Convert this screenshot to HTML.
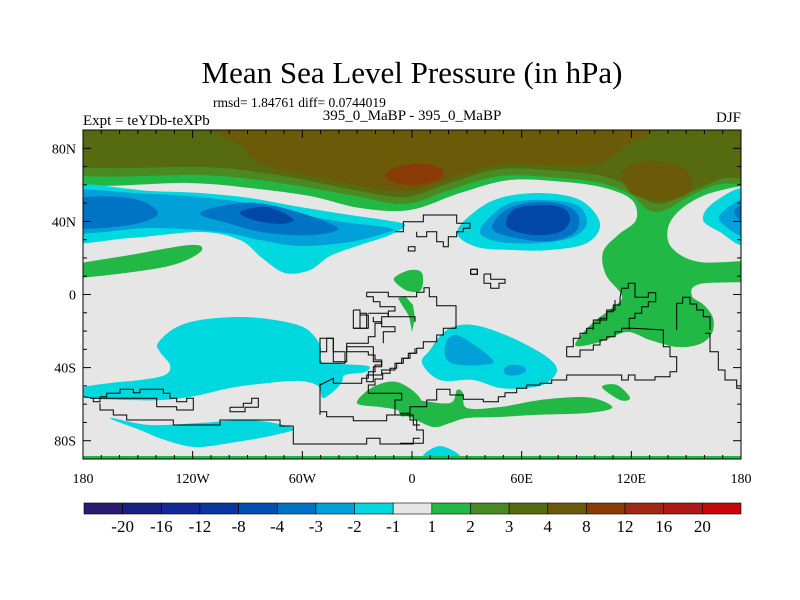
<!DOCTYPE html>
<html><head><meta charset="utf-8"><style>
html,body{margin:0;padding:0;background:#fff;}
svg{display:block;font-family:"Liberation Serif",serif;}
</style></head><body>
<svg id="chart" width="800" height="600" viewBox="0 0 800 600" xmlns="http://www.w3.org/2000/svg">
<text x="412" y="83" font-size="31" text-anchor="middle">Mean Sea Level Pressure (in hPa)</text>
<text x="213" y="107" font-size="13.5">rmsd= 1.84761 diff= 0.0744019</text>
<text x="83" y="125" font-size="15">Expt = teYDb-teXPb</text>
<text x="412" y="120" font-size="15" text-anchor="middle">395_0_MaBP - 395_0_MaBP</text>
<text x="741" y="122" font-size="15" text-anchor="end">DJF</text>
<defs><clipPath id="plotclip"><rect x="83" y="130" width="658" height="329"/></clipPath></defs>
<g id="plot" clip-path="url(#plotclip)">
<rect x="83" y="130" width="658" height="329" fill="#e6e6e6"/>
<g id="fills"></g>
<g id="coasts" fill="none" stroke="#000" stroke-width="1"></g>
<rect x="83" y="456" width="658" height="3" fill="#22b845"/>
</g>
<rect x="83" y="130" width="658" height="329" fill="none" stroke="#000" stroke-width="1"/>
<g id="axes"></g>
<g id="colorbar"></g>
</svg>
<script>
// colorbar data
const cbLevels = ["-20","-16","-12","-8","-4","-3","-2","-1","1","2","3","4","8","12","16","20"];
const cbColors = ["#2a1a70","#1a2080","#10289a","#0a34a0","#0050b4","#0074c4","#00a0d8","#00d8e0","#e6e6e6","#22b845","#4a8a22","#566a10","#6b5a08","#8a3c06","#a02814","#b01818","#c80808"];
// axis data
const xTickLabels = ["180","120W","60W","0","60E","120E","180"];
const xTickLons = [-180,-120,-60,0,60,120,180];
const yTickLabels = ["80N","40N","0","40S","80S"];
const yTickLats = [80,40,0,-40,-80];

const NS="http://www.w3.org/2000/svg";
const X0=83,X1=741,Y0=130,Y1=459;
function xOf(lon){return X0+(lon+180)*(X1-X0)/360;}
function yOf(lat){return Y0+(90-lat)*(Y1-Y0)/180;}
function mk(tag,attrs,parent){const e=document.createElementNS(NS,tag);for(const k in attrs)e.setAttribute(k,attrs[k]);parent.appendChild(e);return e;}
function smooth(p){
  let d="M"+p[0][0]+","+p[0][1];const n=p.length;
  for(let i=0;i<n;i++){const p0=p[(i-1+n)%n],p1=p[i],p2=p[(i+1)%n],p3=p[(i+2)%n];
    d+=" C"+(p1[0]+(p2[0]-p0[0])/6).toFixed(1)+","+(p1[1]+(p2[1]-p0[1])/6).toFixed(1)+" "+(p2[0]-(p3[0]-p1[0])/6).toFixed(1)+","+(p2[1]-(p3[1]-p1[1])/6).toFixed(1)+" "+p2[0]+","+p2[1];}
  return d+"Z";}
const C={g1:"#22b845",g2:"#4a8a22",g3:"#566a10",b4:"#6b5a08",b8:"#8a3c06",cy:"#00d8e0",lb:"#00a0d8",mb:"#0074c4",db:"#0048a8"};
const fills=document.getElementById('fills');
const shapes=[
 ["north-green-1to2",C.g1,[[60,120],[760,120],[760,185],[741,186],[705,195],[680,210],[668,228],[672,248],[700,262],[760,262],[760,280],[700,284],[692,296],[704,305],[713,318],[712,333],[700,344],[677,347],[650,340],[627,332],[600,342],[576,346],[582,334],[596,320],[612,308],[622,296],[606,275],[603,252],[618,235],[636,220],[632,200],[605,188],[565,182],[510,180],[460,193],[410,210],[360,208],[310,196],[250,188],[190,183],[60,181]]],
 ["north-green-2to3",C.g2,[[60,120],[760,120],[760,180],[720,184],[690,196],[665,210],[648,210],[630,194],[600,183],[560,178],[500,176],[450,190],[405,204],[355,196],[300,186],[250,179],[200,175],[60,172]]],
 ["north-olive-3to4",C.g3,[[60,120],[760,120],[760,175],[725,178],[695,190],[668,202],[650,202],[632,188],[602,176],[560,171],[500,169],[450,183],[405,197],[355,190],[300,179],[250,171],[200,167],[60,164]]],
 ["north-brown-4to8-center",C.b4,[[240,120],[628,120],[622,148],[598,163],[560,165],[505,164],[460,175],[420,189],[385,190],[345,183],[300,174],[262,164],[244,148]]],
 ["north-brown-4to8-east",C.b4,[[622,172],[640,162],[668,163],[688,172],[692,188],[678,198],[652,200],[630,192]]],
 ["north-red-8to12",C.b8,[[385,175],[400,166],[425,164],[443,170],[438,180],[415,185],[395,183]]],
 ["pacific-low-cyan",C.cy,[[60,187],[150,191],[200,193],[250,198],[300,207],[350,215],[385,220],[405,225],[390,235],[360,245],[330,256],[310,270],[285,273],[262,258],[240,240],[200,232],[130,238],[60,240]]],
 ["pacific-low-2to3",C.lb,[[60,192],[150,194],[200,197],[260,205],[330,220],[390,228],[385,233],[350,242],[300,246],[260,240],[220,232],[150,228],[60,232]]],
 ["pacific-low-3to4-west",C.mb,[[70,200],[130,198],[158,213],[130,225],[70,227]]],
 ["pacific-low-3to4-east",C.mb,[[200,213],[240,203],[280,207],[337,227],[313,235],[267,233],[227,223]]],
 ["pacific-low-core",C.db,[[240,212],[267,207],[293,219],[280,224],[253,220]]],
 ["asia-low-cyan",C.cy,[[457,233],[473,213],[500,198],[540,193],[580,200],[600,223],[587,243],[550,250],[513,250],[477,247]]],
 ["asia-low-2to3",C.lb,[[480,233],[490,217],[510,203],[543,200],[577,205],[587,223],[573,237],[540,243],[500,242]]],
 ["asia-low-3to4",C.mb,[[493,230],[503,212],[527,203],[557,203],[577,213],[577,230],[557,240],[527,240]]],
 ["asia-low-core",C.db,[[507,227],[513,210],[540,205],[563,208],[570,220],[560,232],[533,235]]],
 ["east-edge-low-cyan",C.cy,[[703,220],[713,203],[745,188],[760,215],[745,245],[720,232]]],
 ["east-edge-low-2to3",C.lb,[[720,215],[745,198],[755,215],[745,236],[725,226]]],
 ["east-edge-low-3to4",C.mb,[[734,212],[745,204],[750,214],[745,224]]],
 ["tropical-green-west",C.g1,[[70,266],[130,255],[190,245],[202,250],[182,262],[147,270],[70,278]]],
 ["africa-green-north",C.g1,[[395,277],[410,270],[422,273],[421,290],[408,291],[396,283]]],
 ["southern-cyan-main",C.cy,[[158,343],[175,328],[200,320],[240,317],[275,320],[305,328],[320,345],[322,362],[340,364],[368,366],[365,372],[345,375],[342,382],[335,390],[323,398],[318,386],[300,381],[268,383],[230,388],[195,396],[163,400],[125,400],[90,398],[80,393],[85,387],[110,383],[140,380],[165,375],[170,365],[160,352]]],
 ["southern-cyan-lower",C.cy,[[110,418],[150,425],[200,423],[250,420],[293,428],[275,435],[230,443],[195,447],[165,440],[140,430]]],
 ["indian-cyan",C.cy,[[422,363],[430,350],[443,333],[460,325],[483,327],[517,340],[547,357],[557,370],[547,383],[527,388],[500,388],[473,380],[440,380]]],
 ["indian-2to3-a",C.lb,[[445,347],[450,337],[462,337],[493,360],[480,365],[460,365],[447,360]]],
 ["indian-2to3-b",C.lb,[[504,370],[510,365],[522,366],[526,371],[518,375],[507,375]]],
 ["south-cyan-bottom",C.cy,[[423,456],[440,446],[460,456],[440,460]]],
 ["southern-green-band",C.g1,[[400,397],[417,400],[450,403],[457,390],[463,393],[467,408],[500,407],[540,400],[580,397],[600,400],[612,408],[587,413],[533,415],[500,417],[467,418],[450,423],[433,427],[410,417],[400,415]]],
 ["southern-green-west",C.g1,[[357,403],[373,387],[397,382],[420,398],[420,417],[410,417],[397,410],[380,407]]],
 ["southern-green-east",C.g1,[[602,387],[617,385],[630,398],[620,400]]]
];
for(const s of shapes){
  const p=mk('path',{d:smooth(s[2]),fill:s[1]},fills);
  
  
}
const strand=mk('path',{d:"M398,298 L405,296 L413,305 L415,318 L412,332 L409,316 L402,305Z",fill:C.g1},fills);



const coasts=document.getElementById('coasts');
const coastLines=[
 [300,215,[[200,232],[265,232],[265,245],[350,245],[350,232],[372,232],[372,218],[388,218],[388,245],[410,245],[410,272],[468,272],[468,340],[430,340],[430,360],[410,360],[410,380],[370,380],[370,400],[350,400],[350,415],[330,415],[330,430],[310,430],[310,445],[290,445],[290,460],[270,460],[270,475],[248,475],[248,492],[225,492],[225,510],[205,510],[205,535],[305,535],[305,555],[285,555],[285,600]]],
 [300,215,[[200,232],[200,245],[220,245],[220,260],[240,260],[240,275],[285,275],[285,288],[265,288],[265,305],[245,305],[245,325],[225,325],[225,365],[205,365],[205,385],[140,385],[140,410],[205,410],[205,420],[225,420],[225,435],[245,435],[245,450],[225,450],[225,470],[205,470],[205,490],[185,490],[185,505],[100,505],[100,490],[60,510],[60,600]]],
 [300,215,[[160,285],[180,285],[180,300],[205,300],[205,340],[160,340],[160,285]]],
 [300,215,[[60,445],[60,410],[80,410],[80,370],[100,370],[100,410],[135,410],[135,445],[60,445]]],
 [300,215,[[285,50],[310,50],[310,20],[370,20],[370,0],[470,0],[470,15],[470,25],[510,25],[510,40],[490,40],[490,50],[470,50],[470,65],[445,65],[445,95],[430,95],[430,80],[410,80],[410,50],[380,50],[380,65],[350,65],[350,50]]],
 [300,215,[[325,95],[345,95],[345,108],[325,108],[325,95]]],
 [300,215,[[512,163],[532,163],[532,178],[512,178],[512,163]]],
 [400,180,[[252,282],[272,282],[272,298],[315,298],[315,310],[297,310],[297,325],[272,325],[272,310],[252,310],[252,282]]],
 [400,180,[[212,268],[232,268],[232,283],[212,283],[212,268]]],
 [400,180,[[580,450],[580,430],[600,430],[600,415],[620,415],[620,395],[640,395],[640,375],[660,375],[660,355],[665,325],[685,325],[685,310],[705,310],[705,352],[745,352],[745,338],[767,338],[767,365],[745,365],[745,380],[725,380],[725,400],[705,400],[705,415],[688,415],[688,450]]],
 [400,180,[[830,450],[830,370],[848,370],[848,352],[870,352],[870,372],[890,372],[890,390],[910,390],[910,410],[930,410],[930,450]]],
 [400,300,[[500,170],[540,170],[540,150],[580,150],[580,135],[600,135],[600,120],[620,120],[620,110],[645,110],[645,95],[665,95],[665,85],[700,85],[790,90],[790,140],[810,140],[810,170],[830,170],[830,215],[810,215],[810,230],[765,230],[765,240],[705,240],[705,225],[685,225],[685,240],[665,240],[665,225],[500,225],[500,240],[455,240],[455,250],[420,250],[420,255],[380,255],[380,265],[350,265],[350,278],[315,278],[315,290],[295,290],[295,305],[250,305],[250,298],[190,298],[190,285],[150,285],[150,268],[110,268],[110,300],[80,300],[80,320],[30,320],[30,340],[0,340]]],
 [400,300,[[500,170],[500,140],[520,140],[520,115],[540,115],[540,100],[560,100],[560,85],[580,85],[580,60],[620,60],[620,30],[645,30],[645,0]]],
 [400,300,[[915,100],[930,100],[930,155],[955,155],[955,210],[975,210],[975,240],[1010,240],[1010,265],[1029,265]]],
 [400,300,[[0,430],[70,430],[70,390],[50,390],[50,360],[30,360],[30,330]]],
 [80,300,[[640,378],[640,432],[860,432],[860,415],[900,415],[900,432],[1000,432],[1000,415],[1020,415]]],
 [80,300,[[10,290],[40,295],[40,305],[60,305],[60,290],[80,290],[80,280],[120,280],[120,268],[160,268],[160,278],[180,278],[180,268],[250,268],[250,280],[270,280],[270,295],[290,295],[290,305],[320,305],[320,295],[340,295],[340,330],[290,330],[290,320],[230,320],[230,295],[30,295]]],
 [80,300,[[60,310],[60,330],[100,330],[100,345],[140,345],[140,360],[280,360],[280,375],[420,375],[420,360],[600,360],[600,378],[640,378]]],
 [80,300,[[450,322],[450,335],[495,335],[495,322],[535,322],[535,295],[515,295],[515,310],[490,310],[490,322],[450,322]]],
 [80,300,[[720,250],[720,335],[740,335],[740,350],[820,350],[820,362],[920,362],[920,345],[1000,345],[1000,375],[1020,375]]],
 [80,300,[[820,85],[840,85],[840,40],[860,40],[860,50],[860,85],[820,85]]],
 [80,300,[[720,190],[720,115],[760,115],[760,185],[800,185],[800,140],[880,140],[880,185],[905,185],[905,200],[880,200],[880,225],[860,225],[860,245],[880,245],[880,225],[905,225],[905,210],[945,210],[945,190],[965,190],[965,175],[985,175],[985,160],[1005,160],[1005,145]]],
 [80,300,[[865,40],[925,40],[925,50],[1005,50],[1005,65]]],
 [80,300,[[880,50],[880,65],[905,65],[905,80],[945,80],[945,95],[910,95],[910,130]]]
];
coastLines.forEach((c,i)=>{
  const pts=c[2].map(p=>(c[0]+p[0]/3).toFixed(1)+","+(c[1]+p[1]/3).toFixed(1)).join(" ");
  const pl=mk('polyline',{points:pts},coasts);
  
  
});

const axes=document.getElementById('axes');
for(let lon=-180;lon<=180;lon+=10){
  const x=xOf(lon);const major=(lon%60===0);const len=major?8:4;
  const t1=mk('line',{x1:x,y1:Y1,x2:x,y2:Y1-len,stroke:"#000","stroke-width":1},axes);
  
  
  const t2=mk('line',{x1:x,y1:Y0,x2:x,y2:Y0+len,stroke:"#000","stroke-width":1},axes);
  
  
}
for(let lat=-90;lat<=90;lat+=10){
  const y=yOf(lat);const major=(lat%40===0);const len=major?8:4;
  const t1=mk('line',{x1:X0,y1:y,x2:X0+len,y2:y,stroke:"#000","stroke-width":1},axes);
  
  
  const t2=mk('line',{x1:X1,y1:y,x2:X1-len,y2:y,stroke:"#000","stroke-width":1},axes);
  
  
}
xTickLabels.forEach((l,i)=>{
  const t=mk('text',{x:xOf(xTickLons[i]),y:483,"font-size":14,"text-anchor":"middle"},axes);
  t.textContent=l;
  
  
});
yTickLabels.forEach((l,i)=>{
  const t=mk('text',{x:76,y:yOf(yTickLats[i])+5,"font-size":14,"text-anchor":"end"},axes);
  t.textContent=l;
  
  
});

const cb=document.getElementById('colorbar');
const cbX0=84,cbX1=741,cbY=503,cbH=11;const w=(cbX1-cbX0)/cbColors.length;
cbColors.forEach((c,i)=>{
  const r=mk('rect',{x:cbX0+i*w,y:cbY,width:w,height:cbH,fill:c,stroke:"#000","stroke-width":0.6},cb);
  
  
});
cbLevels.forEach((l,i)=>{
  const t=mk('text',{x:cbX0+(i+1)*w,y:532,"font-size":17,"text-anchor":"middle"},cb);
  t.textContent=l;
  
  
});
</script>
</body></html>
